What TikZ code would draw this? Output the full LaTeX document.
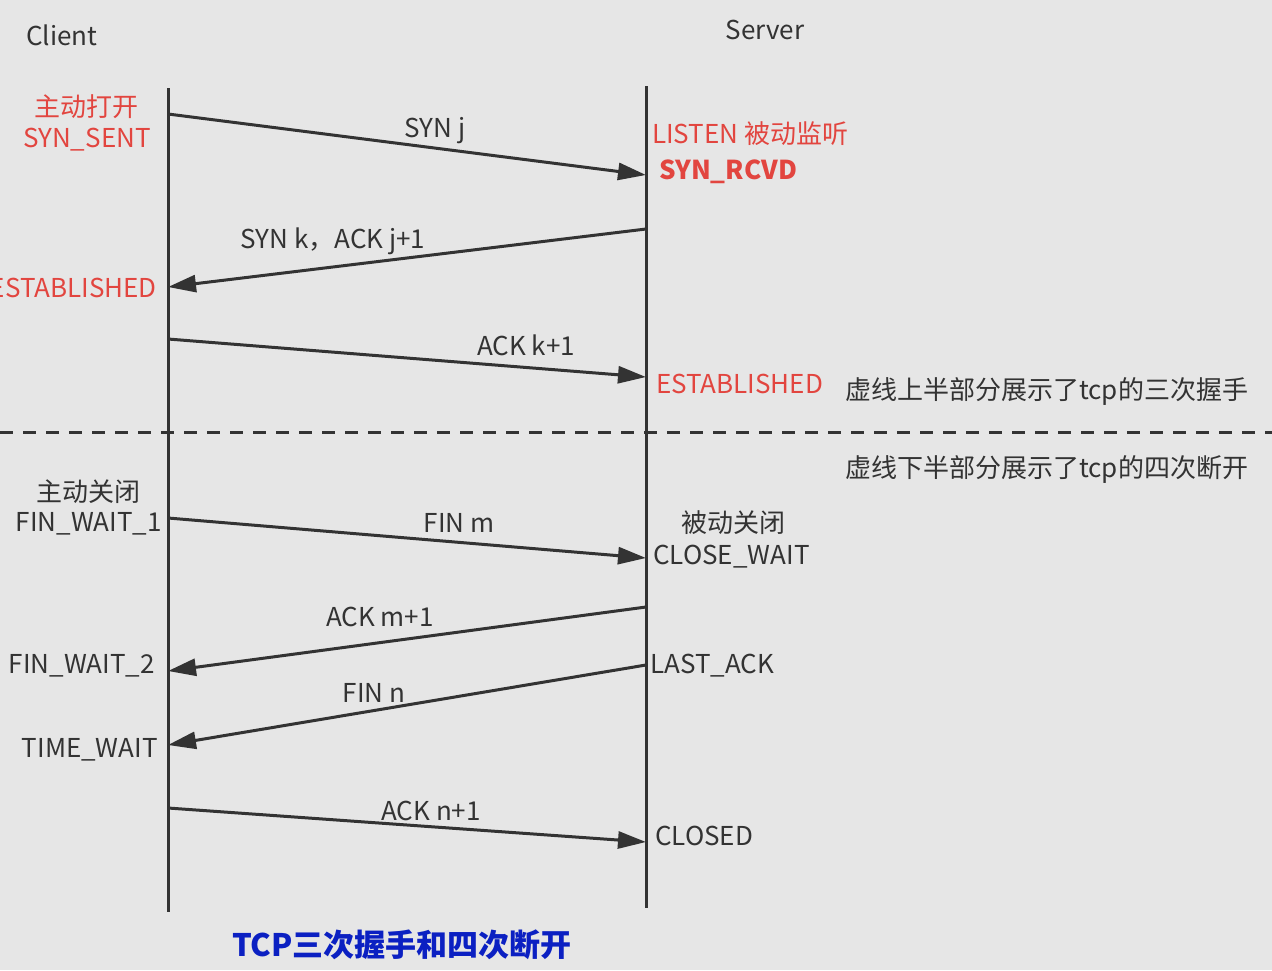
\documentclass[tikz,border=0pt]{standalone}
\usepackage{fontspec}
\setmainfont{Noto Sans CJK SC}
\usetikzlibrary{arrows.meta}
\definecolor{bgray}{HTML}{E6E6E6}
\definecolor{ink}{HTML}{333333}
\definecolor{statered}{HTML}{E2453F}
\definecolor{titleblue}{HTML}{0B20C2}
\tikzset{
  lifeline/.style={line width=3pt, draw=ink},
  msg/.style={line width=3pt, draw=ink, -{Triangle[length=28pt,width=17pt]}},
  txt/.style={font=\fontsize{26}{31}\selectfont, text=ink, inner sep=0pt},
  redtxt/.style={txt, text=statered},
}
\begin{document}
\begin{tikzpicture}[x=1pt,y=-1pt]
\fill[bgray] (0,0) rectangle (1272,970);
\useasboundingbox (0,0) rectangle (1272,970);
% lifelines
\coordinate (ctop) at (168,88);
\coordinate (cbot) at (168,912);
\coordinate (stop) at (646,86);
\coordinate (sbot) at (646,908);
\draw[lifeline] (ctop) -- (cbot);
\draw[lifeline] (stop) -- (sbot);
\node[txt] (client) at (62,35) {Client};
\node[txt] (server) at (765,30) {Server};
% message ends
\coordinate (c1) at (168,114);  \coordinate (s1) at (646,175);
\coordinate (s2) at (646,229);  \coordinate (c2) at (168,287);
\coordinate (c3) at (168,339);  \coordinate (s3) at (646,377);
\coordinate (c4) at (168,518);  \coordinate (s4) at (646,558);
\coordinate (s5) at (646,607);  \coordinate (c5) at (168,671);
\coordinate (s6) at (646,665);  \coordinate (c6) at (168,745);
\coordinate (c7) at (168,808);  \coordinate (s7) at (646,842);
% three-way handshake
\draw[msg] (c1) -- (s1);
\draw[msg] (s2) -- (c2);
\draw[msg] (c3) -- (s3);
\node[txt] (synj) at (435,131) {SYN j};
\node[txt] (synk) at (333,241) {SYN k，ACK j+1};
\node[txt] (ackk) at (526,345) {ACK k+1};
% dashed separator
\coordinate (dl) at (0,432);
\coordinate (dr) at (1272,432);
\draw[line width=3pt, draw=ink, dash pattern=on 13pt off 10pt] (dl) -- (dr);
% four-way close
\draw[msg] (c4) -- (s4);
\draw[msg] (s5) -- (c5);
\draw[msg] (s6) -- (c6);
\draw[msg] (c7) -- (s7);
\node[txt] (finm) at (459,523) {FIN m};
\node[txt] (ackm) at (380,617) {ACK m+1};
\node[txt] (finn) at (374,693) {FIN n};
\node[txt] (ackn) at (431,811) {ACK n+1};
% client states
\node[redtxt, align=center] (copen) at (87,123) {主动打开\\SYN\_SENT};
\node[redtxt, anchor=east] (cest) at (157,288) {ESTABLISHED};
\node[txt] (cclose) at (88,492) {主动关闭};
\node[txt, anchor=east] (fw1) at (162,524) {FIN\_WAIT\_1};
\node[txt, anchor=east] (fw2) at (155,666) {FIN\_WAIT\_2};
\node[txt, anchor=east] (tw) at (158,750) {TIME\_WAIT};
% server states
\node[redtxt, anchor=west] (listen) at (652,134) {LISTEN 被动监听};
\node[redtxt, anchor=west, font=\fontsize{26}{31}\selectfont\bfseries] (rcvd) at (659,172) {SYN\_RCVD};
\node[redtxt, anchor=west] (sest) at (656,384) {ESTABLISHED};
\node[txt] (sclose) at (733,523) {被动关闭};
\node[txt, anchor=west] (cw) at (653,557) {CLOSE\_WAIT};
\node[txt, anchor=west] (la) at (650,666) {LAST\_ACK};
\node[txt, anchor=west] (closed) at (655,836) {CLOSED};
% notes
\node[txt, anchor=west] (upper) at (845,391) {虚线上半部分展示了tcp的三次握手};
\node[txt, anchor=west] (lower) at (845,469) {虚线下半部分展示了tcp的四次断开};
\node[txt, text=titleblue, font=\fontsize{31}{37}\selectfont\bfseries] (title) at (402,945) {TCP三次握手和四次断开};
\end{tikzpicture}
\end{document}
